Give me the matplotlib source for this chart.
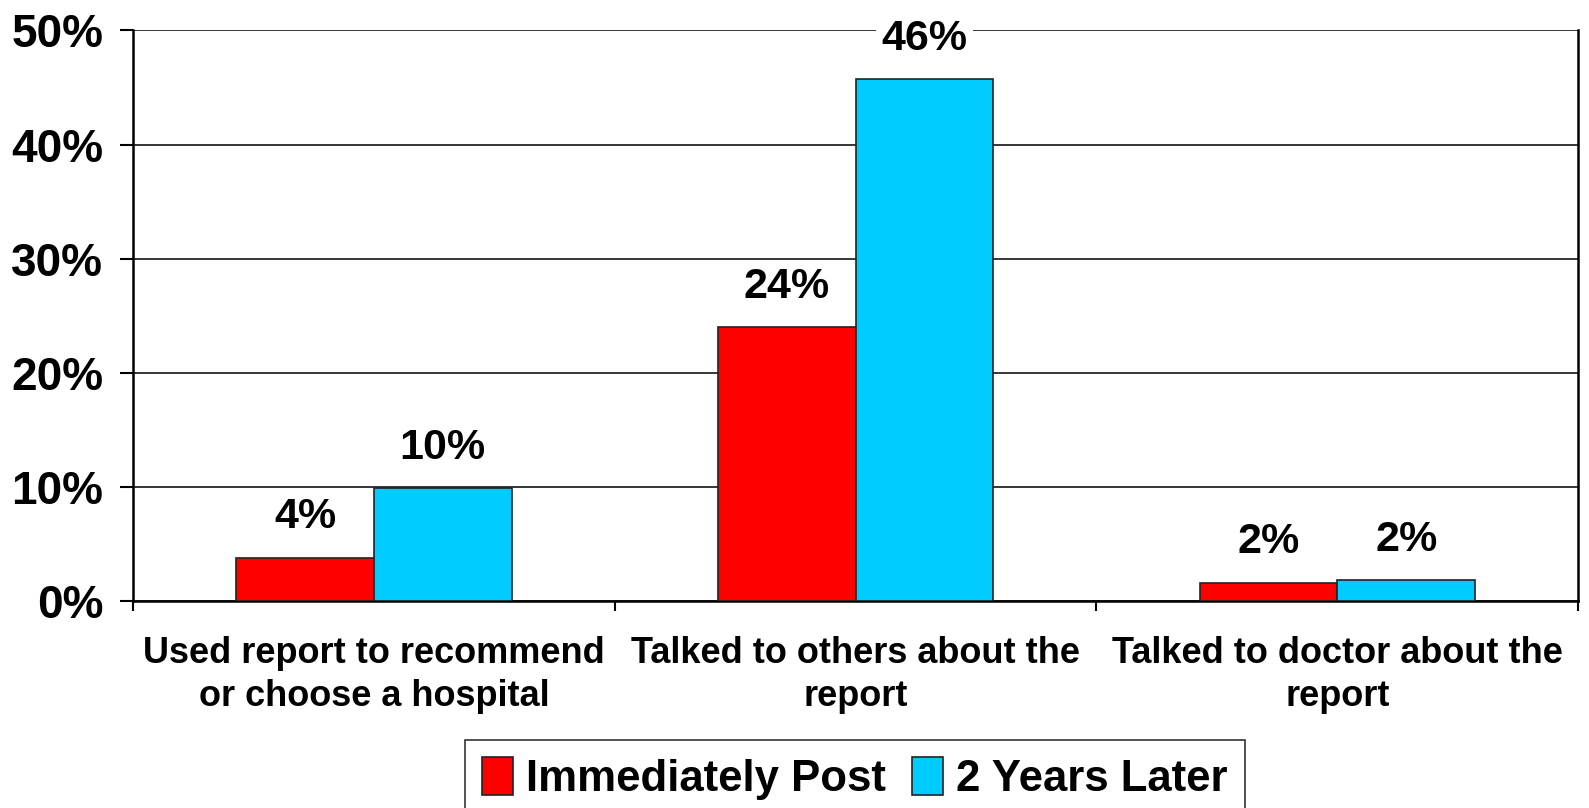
import numpy as np
import matplotlib.pyplot as plt

plt.rcParams['font.family'] = ['Liberation Sans', 'DejaVu Sans']
plt.rcParams['font.weight'] = 'bold'

categories = ["Used report to recommend\nor choose a hospital",
              "Talked to others about the\nreport",
              "Talked to doctor about the\nreport"]
series_names = ["Immediately Post", "2 Years Later"]
immediately_post = [3.8, 24.0, 1.6]
two_years_later = [9.9, 45.7, 1.8]
yticks = [0, 10, 20, 30, 40, 50]

fig = plt.figure(figsize=(15.89, 8.08), dpi=100)
ax = fig.add_axes([0.0837, 0.2562, 0.9095, 0.7062])

x = np.arange(len(categories))
w = 0.286
colors = ["#ff0000", "#00ccff"]
for i, (vals, name) in enumerate(zip([immediately_post, two_years_later], series_names)):
    pos = x + (i - 0.5) * w
    ax.bar(pos, vals, w, color=colors[i], edgecolor="#222222", linewidth=1.2,
           label=name, zorder=3)
    for px, v in zip(pos, vals):
        ax.annotate(f"{v:.0f}%", (px, v), xytext=(0, 29), textcoords="offset points",
                    ha="center", va="center", fontsize=31, fontweight="bold",
                    bbox=dict(facecolor="white", edgecolor="none", pad=4), zorder=4)

ax.set_xlim(-0.5, len(categories) - 0.5)
ax.set_ylim(0, 50)
ax.set_yticks(yticks)
ax.set_yticklabels([f"{t}%" for t in yticks], fontsize=33, fontweight="bold")
ax.yaxis.grid(True, color="black", linewidth=1.1, zorder=0)
ax.set_axisbelow(True)

# ticks sit on category boundaries, labels in the middle
ax.set_xticks(np.arange(len(categories) + 1) - 0.5)
ax.set_xticklabels([])
ax.set_xticks(x, minor=True)
ax.set_xticklabels(categories, minor=True, fontsize=26, fontweight="bold",
                   linespacing=1.3)
ax.tick_params(axis="x", which="minor", length=0, pad=25)
ax.tick_params(axis="x", which="major", length=7, width=1.5, direction="out")
ax.tick_params(axis="y", length=9.5, width=1.5, pad=12)
for s in ax.spines.values():
    s.set_linewidth(1.8)
ax.spines["top"].set_visible(False)

leg = fig.legend(loc="center", bbox_to_anchor=(0.538, 0.036), ncol=2,
                 prop={"weight": "bold", "size": 31.5},
                 frameon=True, fancybox=False, edgecolor="black",
                 handlelength=0.7, handleheight=0.95, handletextpad=0.3,
                 columnspacing=0.6, borderpad=0.4)
leg.get_frame().set_linewidth(1.2)

fig.savefig("out.png", dpi=100)
